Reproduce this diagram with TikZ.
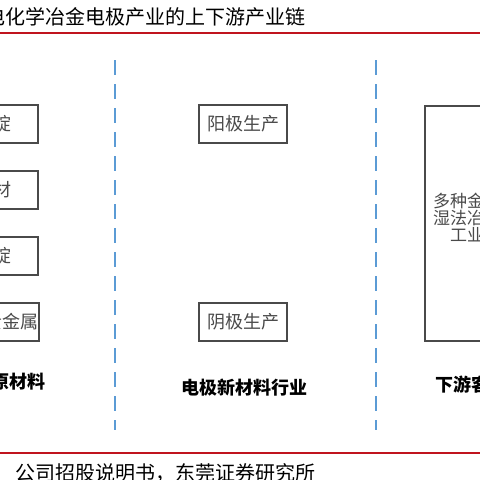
\documentclass[tikz,border=0pt]{standalone}
\usepackage{fontspec}
\setmainfont{Noto Sans CJK SC}
\definecolor{rulered}{HTML}{C0141E}
\definecolor{splitblue}{HTML}{5B9BD5}
\definecolor{boxgray}{HTML}{4A4A4A}

\begin{document}
\begin{tikzpicture}[x=1pt, y=-1pt,
  stagebox/.style={draw=boxgray, line width=1.1pt, inner sep=0pt,
    minimum width=88pt, minimum height=38pt,
    font=\fontsize{18}{18}\selectfont, text=boxgray},
  stagelabel/.style={inner sep=0pt, font=\fontsize{18}{18}\selectfont\bfseries},
  divider/.style={splitblue, line width=1.6pt, dash pattern=on 15pt off 9pt}]
  \useasboundingbox (0,0) rectangle (480,480);
  \fill[white] (0,0) rectangle (480,480);
  \clip (0,0) rectangle (480,480);

  % heading and source, each under / over a red rule
  \node[anchor=west, inner sep=0pt, font=\fontsize{20}{20}\selectfont] (heading) at (-15,17) {电化学冶金电极产业的上下游产业链};
  \draw[rulered, line width=1.5pt] (0,33) -- (480,33);
  \draw[rulered, line width=1.5pt] (0,453) -- (480,453);
  \node[anchor=west, inner sep=0pt, font=\fontsize{20}{20}\selectfont] (source) at (15,473) {公司招股说明书，东莞证券研究所};

  % upstream raw materials
  \node[stagebox] (raw1) at (-6,124) {铅锭};
  \node[stagebox] (raw2) at (-6,190) {钛材};
  \node[stagebox] (raw3) at (-6,256) {银锭};
  \node[stagebox] (raw4) at (-6,322) {稀有贵金属};
  \node[stagelabel, anchor=east] (rawlabel) at (46,382) {上游原材料};

  % electrode production
  \node[stagebox] (anode) at (243,124) {阳极生产};
  \node[stagebox] (cathode) at (243,322) {阴极生产};
  \node[stagelabel] (midlabel) at (244,388) {电极新材料行业};

  % downstream customers: the text sits a little above the box middle
  \node[stagebox, minimum width=84pt, minimum height=235pt] (hydro) at (467,223.5) {};
  \node[inner sep=0pt, align=center, text=boxgray,
        font=\fontsize{17}{17}\selectfont] (hydrotext) at (467,218) {多种金属\\湿法冶金\\工业};
  \node[stagelabel, anchor=west] (downlabel) at (435,385) {下游客户};

  \draw[divider] (115,60) -- (115,430);
  \draw[divider] (376,60) -- (376,430);
\end{tikzpicture}
\end{document}
